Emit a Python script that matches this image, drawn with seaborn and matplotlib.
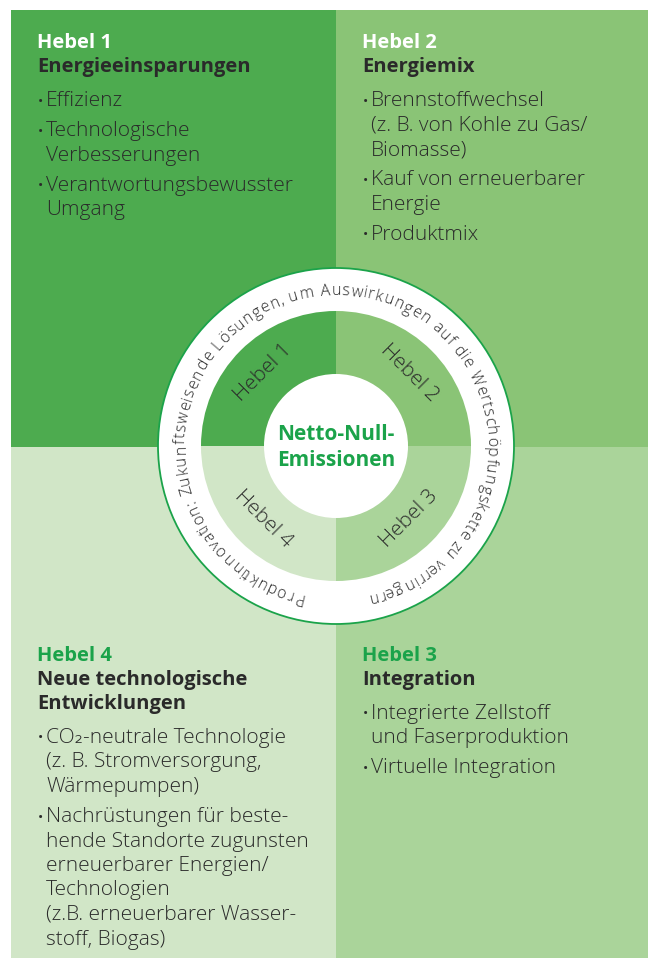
import numpy as np
import matplotlib
matplotlib.use("Agg")
import matplotlib.pyplot as plt
from matplotlib.patches import Rectangle, Circle, Wedge
from matplotlib.textpath import TextToPath
from matplotlib.font_manager import FontProperties
import seaborn as sns

# content
lever_names = ["Hebel 1", "Hebel 2", "Hebel 3", "Hebel 4"]
lever_titles = [["Energieeinsparungen"],
                ["Energiemix"],
                ["Integration"],
                ["Neue technologische", "Entwicklungen"]]
lever_items = [
    [["Effizienz"], ["Technologische", "Verbesserungen"],
     ["Verantwortungsbewusster", "Umgang"]],
    [["Brennstoffwechsel", "(z. B. von Kohle zu Gas/", "Biomasse)"],
     ["Kauf von erneuerbarer", "Energie"], ["Produktmix"]],
    [["Integrierte Zellstoff", "und Faserproduktion"], ["Virtuelle Integration"]],
    [["CO₂-neutrale Technologie", "(z. B. Stromversorgung,", "Wärmepumpen)"],
     ["Nachrüstungen für beste-", "hende Standorte zugunsten",
      "erneuerbarer Energien/", "Technologien",
      "(z.B. erneuerbarer Wasser-", "stoff, Biogas)"]],
]
lever_colors = ["#4dab4f", "#8ac476", "#aad49a", "#d1e6c7"]
header_colors = ["white", "white", "#1ba34a", "#1ba34a"]
center_text = ["Netto-Null-", "Emissionen"]
ring_text = ("Produktinnovation: Zukunftsweisende Lösungen, um Auswirkungen "
             "auf die Wertschöpfungskette zu verringern")

# layout (pixels, y down)
W, H = 648, 958
boxes = [(11, 10, 336, 447), (336, 10, 648, 447),
         (336, 447, 648, 958), (11, 447, 336, 958)]
header_xy = [(37, 43), (362, 43), (362, 656), (37, 656)]
cx, cy = 336, 446
r_outer, r_mid, r_inner = 178, 135, 72
# quadrant angles in data coords (y axis inverted)
wedge_angles = [(180, 270), (270, 360), (0, 90), (90, 180)]
label_angles = [225, 315, 45, 135]
label_rot = [45, -45, 45, -45]
dark = "#2a2a2a"
green = "#1ba34a"
font = 'Open Sans'

sns.set_theme(style="white")
plt.rcParams['font.family'] = [font, 'DejaVu Sans']

fig = plt.figure(figsize=(W / 100, H / 100), dpi=100)
ax = fig.add_axes([0, 0, 1, 1])
ax.set_xlim(0, W)
ax.set_ylim(H, 0)
ax.axis('off')

fs = 14.5
bfs = 15
for i in range(4):
    x0, y0, x1, y1 = boxes[i]
    ax.add_patch(Rectangle((x0, y0), x1 - x0, y1 - y0, color=lever_colors[i], lw=0))
    hx, hy = header_xy[i]
    ax.text(hx, hy, lever_names[i], color=header_colors[i], fontsize=fs,
            fontweight='bold', ha='left', va='center')
    y = hy
    for line in lever_titles[i]:
        y += 24
        ax.text(hx, y, line, color=dark, fontsize=fs, fontweight='bold',
                ha='left', va='center')
    y += 10
    for item in lever_items[i]:
        y += 24
        ax.text(hx + 1, y + 1, "•", color=dark, fontsize=fs * 0.7, ha='left', va='center')
        for j, line in enumerate(item):
            if j > 0:
                y += 24.5
            ax.text(hx + 9, y, line, color=dark, fontsize=bfs, fontweight='light',
                    ha='left', va='center')
        y += 6

# ring and donut
ax.add_patch(Circle((cx, cy), r_outer, facecolor='white', edgecolor=green, lw=1.3))
for i in range(4):
    ax.add_patch(Wedge((cx, cy), r_mid, *wedge_angles[i], facecolor=lever_colors[i], lw=0))
    a = np.deg2rad(label_angles[i])
    ax.text(cx + 103 * np.cos(a), cy + 103 * np.sin(a), lever_names[i],
            rotation=label_rot[i], rotation_mode='anchor', ha='center', va='center',
            fontsize=bfs, fontweight='light', color=dark)
ax.add_patch(Circle((cx, cy), r_inner, facecolor='white', lw=0))
ax.text(cx, 435, center_text[0], color=green, fontsize=15, fontweight='bold',
        ha='center', va='center')
ax.text(cx, 460, center_text[1], color=green, fontsize=15, fontweight='bold',
        ha='center', va='center')

# curved text around the ring, clockwise on screen
rfs = 11.5
prop = FontProperties(family=font, size=rfs, weight='light')
t2p = TextToPath()
def tw(s):
    return t2p.get_text_width_height_descent(s, prop, ismath=False)[0]
total = tw(ring_text)
phi0, phi1 = 102.0, 438.6
r_text = 151
for k, ch in enumerate(ring_text):
    c = (tw(ring_text[:k]) + tw(ring_text[:k + 1])) / 2
    phi = phi0 + c / total * (phi1 - phi0)
    a = np.deg2rad(phi)
    ax.text(cx + r_text * np.cos(a), cy + r_text * np.sin(a), ch,
            rotation=270 - phi, rotation_mode='anchor', ha='center', va='baseline',
            fontsize=rfs, fontweight='light', color=dark)

fig.savefig("out.png", dpi=100)
